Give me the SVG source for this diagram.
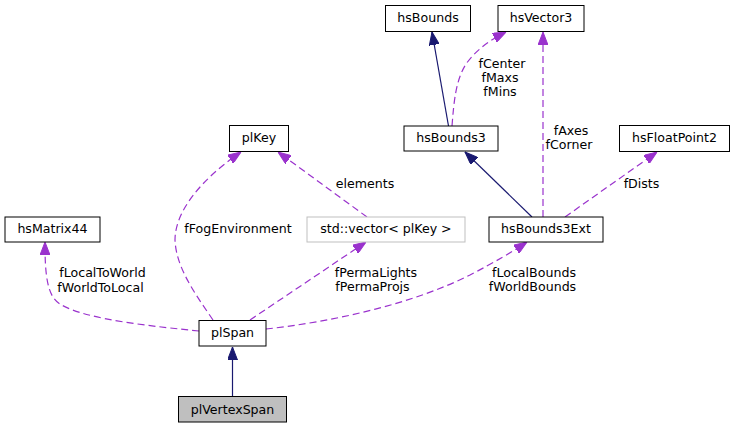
<svg xmlns="http://www.w3.org/2000/svg" width="736" height="428" viewBox="0 0 736 428">
<style>
.n rect{fill:#fff;stroke:#000;stroke-width:1}
.n text, .lbl{font-family:"DejaVu Sans",sans-serif;font-size:12.6px;fill:#000}
.n text{text-anchor:middle}
.lbl{text-anchor:middle}
.inh{fill:none;stroke:#191970;stroke-width:1.2}
.use{fill:none;stroke:#9a32cd;stroke-width:1.2;stroke-dasharray:7,4}
</style>
<defs>
<marker id="an" viewBox="0 0 13 10" markerWidth="13" markerHeight="10" refX="13" refY="5" orient="auto" markerUnits="userSpaceOnUse">
<path d="M0,0 L13,5 L0,10 z" fill="#191970" stroke="#191970" stroke-width="1"/>
</marker>
<marker id="ap" viewBox="0 0 13 10" markerWidth="13" markerHeight="10" refX="13" refY="5" orient="auto" markerUnits="userSpaceOnUse">
<path d="M0,0 L13,5 L0,10 z" fill="#9a32cd" stroke="#9a32cd" stroke-width="1"/>
</marker>
</defs>
<g id="edges">
<path class="inh" d="M232.5,396 L232.5,347" marker-end="url(#an)"/>
<path class="inh" d="M448.5,126 L432,32" marker-end="url(#an)"/>
<path class="inh" d="M532,217 L465,152" marker-end="url(#an)"/>
<path class="use" d="M452,126 C454,100 456,80 466,64 C476,50 490,40 506,32" marker-end="url(#ap)"/>
<path class="use" d="M543,217 L543,32" marker-end="url(#ap)"/>
<path class="use" d="M565,217 L657,152" marker-end="url(#ap)"/>
<path class="use" d="M367,217 L278,152" marker-end="url(#ap)"/>
<path class="use" d="M213,320 C196,295 176,268 175,240 C175,212 200,180 241,152" marker-end="url(#ap)"/>
<path class="use" d="M250,320 L366,242" marker-end="url(#ap)"/>
<path class="use" d="M266,329 C330,322 410,305 470,275 C495,262 512,252 527,242" marker-end="url(#ap)"/>
<path class="use" d="M199,331 C160,327 85,320 60,304 C46,296 45,270 45,242" marker-end="url(#ap)"/>
</g>
<g id="labels">
<text class="lbl" x="502" y="67.5">fCenter</text>
<text class="lbl" x="500" y="81.5">fMaxs</text>
<text class="lbl" x="500" y="95.5">fMins</text>
<text class="lbl" x="571" y="135">fAxes</text>
<text class="lbl" x="569" y="149">fCorner</text>
<text class="lbl" x="641.5" y="187.5">fDists</text>
<text class="lbl" x="365" y="187.5">elements</text>
<text class="lbl" x="238" y="233">fFogEnvironment</text>
<text class="lbl" x="376" y="276.5">fPermaLights</text>
<text class="lbl" x="372.5" y="291">fPermaProjs</text>
<text class="lbl" x="534" y="276.5">fLocalBounds</text>
<text class="lbl" x="532.5" y="291">fWorldBounds</text>
<text class="lbl" x="102.5" y="276.5">fLocalToWorld</text>
<text class="lbl" x="100.5" y="291.5">fWorldToLocal</text>
</g>
<g id="hsBounds" class="n"><rect x="385.5" y="5.5" width="85" height="26"/><text x="428" y="22">hsBounds</text></g>
<g id="hsVector3" class="n"><rect x="498" y="5.5" width="86" height="26"/><text x="541" y="22">hsVector3</text></g>
<g id="hsBounds3" class="n"><rect x="404" y="126" width="94" height="25"/><text x="451" y="142">hsBounds3</text></g>
<g id="plKey" class="n"><rect x="229.5" y="125.5" width="59" height="26"/><text x="259" y="142">plKey</text></g>
<g id="hsFloatPoint2" class="n"><rect x="619.5" y="125.5" width="110" height="26"/><text x="674.5" y="142">hsFloatPoint2</text></g>
<g id="hsMatrix44" class="n"><rect x="5" y="217" width="95" height="25"/><text x="52.5" y="233">hsMatrix44</text></g>
<g id="stdvector" class="n"><rect x="307" y="217" width="158" height="25" style="stroke:#bfbfbf"/><text x="386" y="233">std::vector&lt; plKey &gt;</text></g>
<g id="hsBounds3Ext" class="n"><rect x="489" y="217" width="114" height="25"/><text x="546" y="233">hsBounds3Ext</text></g>
<g id="plSpan" class="n"><rect x="199" y="320.5" width="67" height="25.5"/><text x="232.5" y="337">plSpan</text></g>
<g id="plVertexSpan" class="n"><rect x="178.5" y="396.5" width="108" height="25.5" style="fill:#bfbfbf"/><text x="232.5" y="413.5">plVertexSpan</text></g>
</svg>
